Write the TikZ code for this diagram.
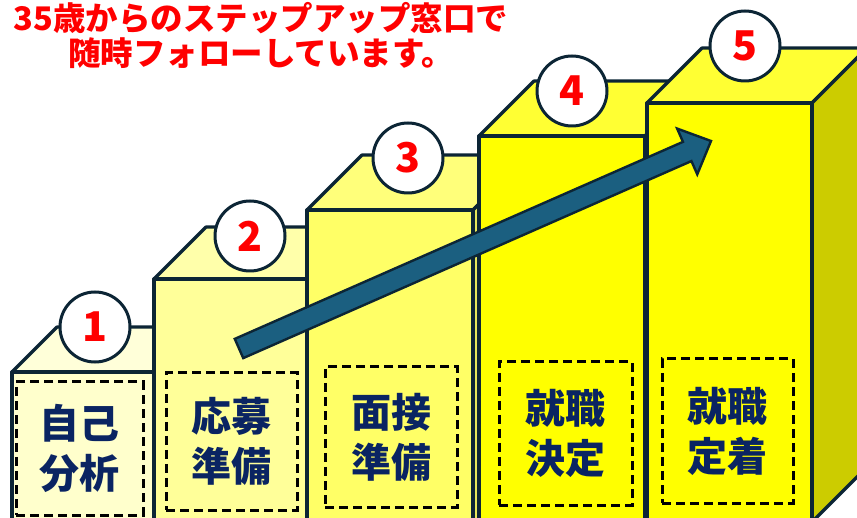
\documentclass[tikz,border=0pt]{standalone}
\usepackage{fontspec}
\newfontfamily\jp{Noto Sans CJK JP}
\usetikzlibrary{calc}
\definecolor{edge}{HTML}{0C2535}
\definecolor{navytext}{HTML}{0A2462}
\definecolor{arrowfill}{HTML}{1B5F80}
\definecolor{frontA}{HTML}{FFFFCC}\definecolor{topA}{HTML}{FFFFD9}
\definecolor{frontB}{HTML}{FFFF99}\definecolor{topB}{HTML}{FFFFAA}
\definecolor{frontC}{HTML}{FFFF66}\definecolor{topC}{HTML}{FFFF7A}
\definecolor{frontD}{HTML}{FFFF00}\definecolor{topD}{HTML}{FFFF33}
\definecolor{sideC}{HTML}{E6E65C}
\definecolor{sideE}{HTML}{CCCC00}
\tikzset{
  face/.style={draw=edge, line width=3.2pt, line join=round},
  numcirc/.style={circle, draw=edge, fill=white, line width=3pt, minimum size=70pt, inner sep=0pt,
    text=red, font=\jp\bfseries\fontsize{41}{41}\selectfont},
  dashbox/.style={draw=black, line width=3pt, dash pattern=on 9pt off 5pt, inner sep=0pt,
    align=center, text=navytext, font=\jp\bfseries\fontsize{40}{50}\selectfont},
  titletext/.style={text=red, inner sep=0pt, font=\jp\bfseries\fontsize{32.5}{32.5}\selectfont},
  arrowshape/.style={draw=edge, fill=arrowfill, line width=2.4pt, line join=miter}
}
\begin{document}
\begin{tikzpicture}[x=1pt,y=-1pt]
\useasboundingbox (0,0) rectangle (857,518);
\fill[white] (0,0) rectangle (857,518);
\clip (0,0) rectangle (857,518);
% box 1
\filldraw[face, fill=topA] (12,372)--(57,327)--(200,327)--(155,372)--cycle;
\filldraw[face, fill=frontA] (12,372) rectangle (155,525);
\node[numcirc] (c1) at (95,327) {1};
\node[dashbox, minimum width=127pt, minimum height=133pt] (t1) at (79.5,448.5) {自己\\分析};
% box 2
\filldraw[face, fill=topB] (154,279)--(206,227)--(359,227)--(307,279)--cycle;
\filldraw[face, fill=frontB] (154,279) rectangle (307,525);
\node[numcirc] (c2) at (250,236) {2};
\node[dashbox, minimum width=131pt, minimum height=137pt] (t2) at (231.5,441.5) {応募\\準備};
% box 3
\filldraw[face, fill=topC] (307,210)--(362,155)--(528,155)--(473,210)--cycle;
\filldraw[face, fill=sideC] (473,210)--(528,155)--(528,470)--(473,525)--cycle;
\filldraw[face, fill=frontC] (307,210) rectangle (473,525);
\node[numcirc] (c3) at (408,158) {3};
\node[dashbox, minimum width=132pt, minimum height=140pt] (t3) at (391,437) {面接\\準備};
% box 4
\filldraw[face, fill=topD] (479,136)--(534,81)--(700,81)--(645,136)--cycle;
\filldraw[face, fill=sideE] (645,136)--(700,81)--(700,470)--(645,525)--cycle;
\filldraw[face, fill=frontD] (479,136) rectangle (645,525);
\node[numcirc] (c4) at (572,91) {4};
\node[dashbox, minimum width=133pt, minimum height=143pt] (t4) at (565.5,433.5) {就職\\決定};
% box 5
\filldraw[face, fill=topD] (647,103)--(702,48)--(867,48)--(812,103)--cycle;
\filldraw[face, fill=sideE] (812,103)--(867,48)--(867,467)--(812,522)--cycle;
\filldraw[face, fill=frontD] (647,103) rectangle (812,522);
\node[numcirc] (c5) at (745,46) {5};
\node[dashbox, minimum width=131pt, minimum height=144pt] (t5) at (727.5,431) {就職\\定着};
% arrow
\coordinate (as) at (239,348.5);
\coordinate (at) at (711,141);
\coordinate (ab) at ($(at)!26pt!(as)$);
\filldraw[arrowshape] ($(as)!10.5pt!90:(at)$) -- ($(ab)!10.5pt!-90:(as)$) -- ($(ab)!25pt!-90:(as)$) -- (at)
  -- ($(ab)!25pt!90:(as)$) -- ($(ab)!10.5pt!90:(as)$) -- ($(as)!10.5pt!-90:(at)$) -- cycle;
% title
\node[titletext] (title1) at (261,18) {35歳からのステップアップ窓口で};
\node[titletext] (title2) at (261,53) {随時フォローしています。};
\end{tikzpicture}
\end{document}
